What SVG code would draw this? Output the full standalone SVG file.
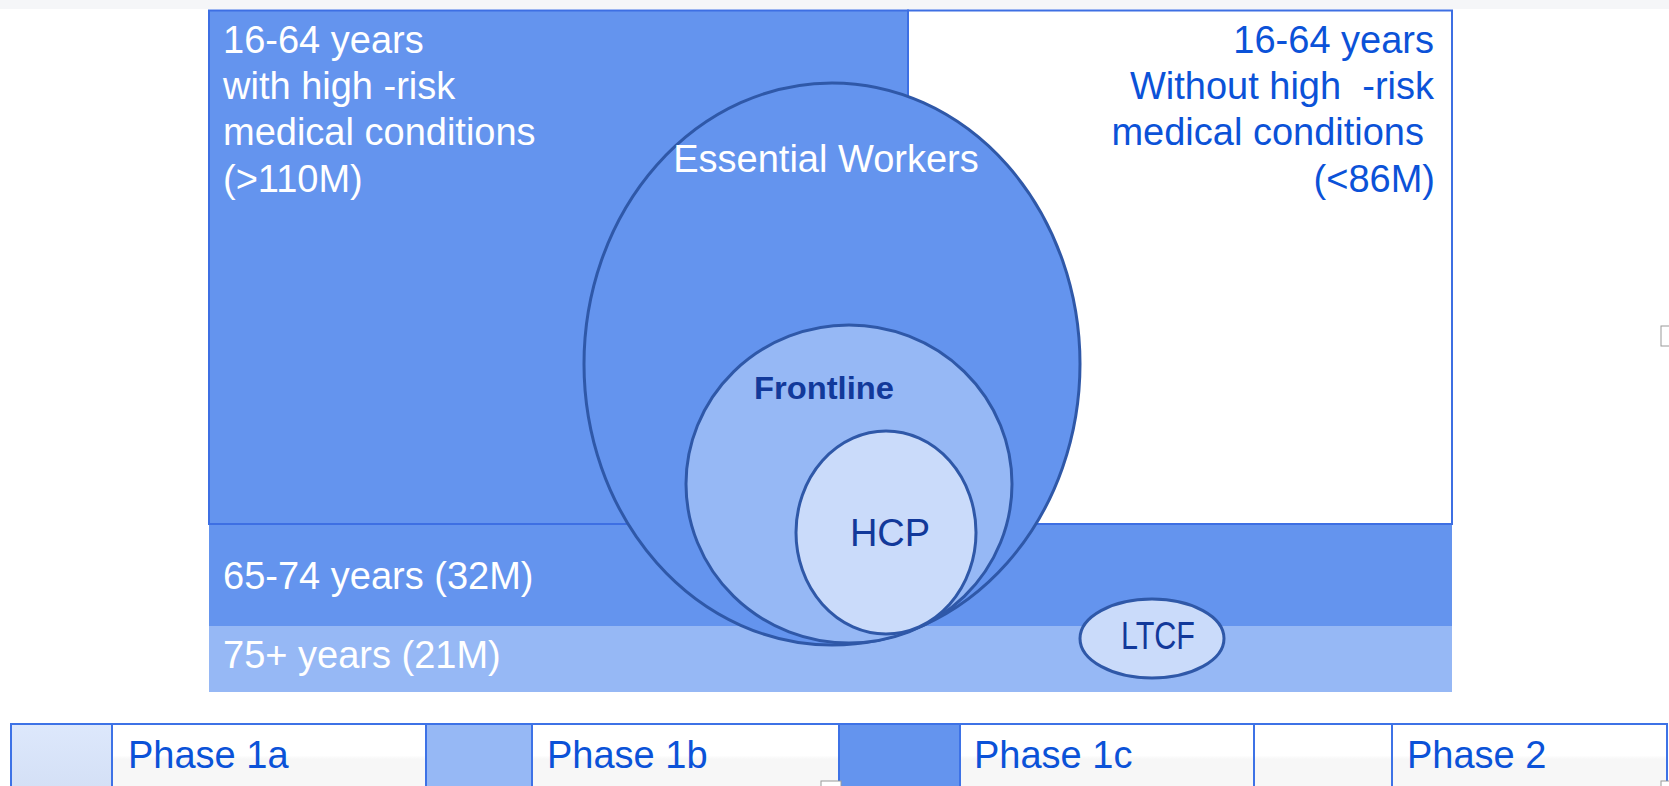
<svg xmlns="http://www.w3.org/2000/svg" width="1669" height="786" viewBox="0 0 1669 786">
  <style>
    .lbl { font-family: "Liberation Sans", Arial, sans-serif; font-size: 38px; }
    .wt { fill: #ffffff; }
    .bl { fill: #0b52d8; }
    .ell { stroke: #2f58a8; stroke-width: 3; }
    .cell { stroke: #3d72e6; stroke-width: 2; }
  </style>
  <defs>
    <linearGradient id="gWhite" x1="0" y1="0" x2="0" y2="1">
      <stop offset="0" stop-color="#ffffff"/>
      <stop offset="0.45" stop-color="#ffffff"/>
      <stop offset="0.5" stop-color="#f7f7f7"/>
      <stop offset="1" stop-color="#f7f7f7"/>
    </linearGradient>
    <linearGradient id="g1a" x1="0" y1="0" x2="0" y2="1">
      <stop offset="0" stop-color="#dde8fc"/>
      <stop offset="1" stop-color="#d3dff5"/>
    </linearGradient>
  </defs>

  <rect x="0" y="0" width="1669" height="786" fill="#ffffff"/>
  <rect x="0" y="0" width="1669" height="9" fill="#f5f6f8"/>

  <g id="group-16-64-high-risk">
    <rect x="209" y="10.5" width="699" height="513.5" fill="#6494ee" stroke="#3d6fe3" stroke-width="2"/>
  </g>
  <g id="group-16-64-no-risk">
    <rect x="908" y="10.5" width="544" height="513.5" fill="#ffffff" stroke="#3d6fe3" stroke-width="2"/>
  </g>
  <g id="band-65-74">
    <rect x="209" y="525" width="1243" height="101" fill="#6494ee"/>
  </g>
  <g id="band-75">
    <rect x="209" y="626" width="1243" height="66" fill="#96b8f5"/>
  </g>

  <g id="essential-workers">
    <ellipse cx="832" cy="364" rx="248" ry="281" fill="#6494ee" class="ell"/>
    <text x="826" y="172" class="lbl wt" text-anchor="middle">Essential Workers</text>
  </g>
  <g id="frontline">
    <ellipse cx="849" cy="484" rx="163" ry="159" fill="#96b8f5" class="ell"/>
    <text x="824" y="399" font-family="'Liberation Sans', Arial, sans-serif" font-weight="bold" font-size="31" fill="#12399a" text-anchor="middle" textLength="140" lengthAdjust="spacingAndGlyphs">Frontline</text>
  </g>
  <g id="hcp">
    <ellipse cx="886" cy="532.5" rx="90" ry="101.5" fill="#cadbfa" class="ell"/>
    <text x="890" y="546" class="lbl" font-size="37" fill="#12399a" text-anchor="middle">HCP</text>
  </g>
  <g id="ltcf">
    <ellipse cx="1152" cy="638.5" rx="72" ry="39.5" fill="#cadbfa" class="ell"/>
    <text x="1158" y="649" class="lbl" font-size="28" fill="#12399a" text-anchor="middle" textLength="74" lengthAdjust="spacingAndGlyphs">LTCF</text>
  </g>

  <g id="labels-left">
    <text class="lbl wt" x="223" y="53">16-64 years</text>
    <text class="lbl wt" x="223" y="99">with high -risk</text>
    <text class="lbl wt" x="223" y="145">medical conditions</text>
    <text class="lbl wt" x="223" y="192">(&gt;110M)</text>
    <text class="lbl wt" x="223" y="589">65-74 years (32M)</text>
    <text class="lbl wt" x="223" y="668">75+ years (21M)</text>
  </g>
  <g id="labels-right">
    <text class="lbl bl" x="1434" y="53" text-anchor="end">16-64 years</text>
    <text class="lbl bl" x="1434" y="99" text-anchor="end" xml:space="preserve">Without high  -risk</text>
    <text class="lbl bl" x="1424" y="145" text-anchor="end">medical conditions</text>
    <text class="lbl bl" x="1435" y="192" text-anchor="end">(&lt;86M)</text>
  </g>

  <g id="legend">
    <rect class="cell" x="11" y="724" width="101" height="70" fill="url(#g1a)"/>
    <rect class="cell" x="112" y="724" width="314" height="70" fill="url(#gWhite)"/>
    <rect class="cell" x="426" y="724" width="106" height="70" fill="#96b8f5"/>
    <rect class="cell" x="532" y="724" width="307" height="70" fill="url(#gWhite)"/>
    <rect class="cell" x="839" y="724" width="121" height="70" fill="#6494ee"/>
    <rect class="cell" x="960" y="724" width="294" height="70" fill="url(#gWhite)"/>
    <rect class="cell" x="1254" y="724" width="138" height="70" fill="url(#gWhite)"/>
    <rect class="cell" x="1392" y="724" width="275" height="70" fill="url(#gWhite)"/>
    <text class="lbl bl" x="128" y="768">Phase 1a</text>
    <text class="lbl bl" x="547" y="768">Phase 1b</text>
    <text class="lbl bl" x="974" y="768">Phase 1c</text>
    <text class="lbl bl" x="1407" y="768">Phase 2</text>
  </g>

  <g id="handles" fill="#ffffff" stroke="#9a9a9a" stroke-width="1">
    <rect x="1661" y="326" width="9" height="20"/>
    <rect x="821" y="781" width="20" height="9"/>
    <rect x="1661" y="781" width="9" height="9"/>
  </g>
</svg>
